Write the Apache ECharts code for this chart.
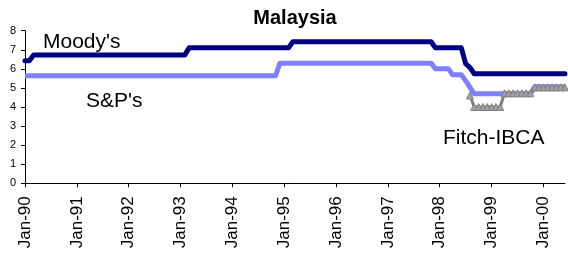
<!DOCTYPE html>
<html>
<head>
<meta charset="utf-8">
<script src="https://cdn.jsdelivr.net/npm/echarts@6/dist/echarts.min.js"></script>
<style>
  html, body { margin: 0; padding: 0; background: #fff; }
  #chart { width: 568px; height: 258px; }
</style>
</head>
<body>
<div id="chart"></div>
<script>
// monthly categories Jan-90 .. Jun-00
var monthNames = ['Jan','Feb','Mar','Apr','May','Jun','Jul','Aug','Sep','Oct','Nov','Dec'];
var years = ['90','91','92','93','94','95','96','97','98','99','00'];
var lastMonthOf2000 = 6;
var months = [];
years.forEach(function (y, i) {
  var n = i === years.length - 1 ? lastMonthOf2000 : 12;
  for (var m = 0; m < n; m++) months.push(monthNames[m] + '-' + y);
});

// rating scores, one per month
var moodys = [
  6.42, 6.42, 6.73, 6.73, 6.73, 6.73, 6.73, 6.73, 6.73, 6.73, 6.73, 6.73, // 1990
  6.73, 6.73, 6.73, 6.73, 6.73, 6.73, 6.73, 6.73, 6.73, 6.73, 6.73, 6.73, // 1991
  6.73, 6.73, 6.73, 6.73, 6.73, 6.73, 6.73, 6.73, 6.73, 6.73, 6.73, 6.73, // 1992
  6.73, 6.73, 7.1, 7.1, 7.1, 7.1, 7.1, 7.1, 7.1, 7.1, 7.1, 7.1,           // 1993
  7.1, 7.1, 7.1, 7.1, 7.1, 7.1, 7.1, 7.1, 7.1, 7.1, 7.1, 7.1,             // 1994
  7.1, 7.1, 7.42, 7.42, 7.42, 7.42, 7.42, 7.42, 7.42, 7.42, 7.42, 7.42,   // 1995
  7.42, 7.42, 7.42, 7.42, 7.42, 7.42, 7.42, 7.42, 7.42, 7.42, 7.42, 7.42, // 1996
  7.42, 7.42, 7.42, 7.42, 7.42, 7.42, 7.42, 7.42, 7.42, 7.42, 7.42, 7.1,  // 1997
  7.1, 7.1, 7.1, 7.1, 7.1, 7.1, 6.27, 6.07, 5.74, 5.74, 5.74, 5.74,       // 1998
  5.74, 5.74, 5.74, 5.74, 5.74, 5.74, 5.74, 5.74, 5.74, 5.74, 5.74, 5.74, // 1999
  5.74, 5.74, 5.74, 5.74, 5.74, 5.74                                      // 2000
];
var sp = [
  5.64, 5.64, 5.64, 5.64, 5.64, 5.64, 5.64, 5.64, 5.64, 5.64, 5.64, 5.64, // 1990
  5.64, 5.64, 5.64, 5.64, 5.64, 5.64, 5.64, 5.64, 5.64, 5.64, 5.64, 5.64, // 1991
  5.64, 5.64, 5.64, 5.64, 5.64, 5.64, 5.64, 5.64, 5.64, 5.64, 5.64, 5.64, // 1992
  5.64, 5.64, 5.64, 5.64, 5.64, 5.64, 5.64, 5.64, 5.64, 5.64, 5.64, 5.64, // 1993
  5.64, 5.64, 5.64, 5.64, 5.64, 5.64, 5.64, 5.64, 5.64, 5.64, 5.64, 6.3,  // 1994
  6.3, 6.3, 6.3, 6.3, 6.3, 6.3, 6.3, 6.3, 6.3, 6.3, 6.3, 6.3,             // 1995
  6.3, 6.3, 6.3, 6.3, 6.3, 6.3, 6.3, 6.3, 6.3, 6.3, 6.3, 6.3,             // 1996
  6.3, 6.3, 6.3, 6.3, 6.3, 6.3, 6.3, 6.3, 6.3, 6.3, 6.3, 6.0,             // 1997
  6.0, 6.0, 6.0, 5.69, 5.69, 5.69, 5.38, 5.03, 4.69, 4.69, 4.69, 4.69,    // 1998
  4.69, 4.69, 4.69, 4.69, 4.69, 4.69, 4.69, 4.69, 4.69, 4.69, 5.06, 5.06, // 1999
  5.06, 5.06, 5.06, 5.06, 5.06, 5.06                                      // 2000
];
// Fitch-IBCA starts Aug-98
var fitchStart = 'Aug-98';
var fitch = [
  4.6, 4.0, 4.0, 4.0, 4.0, 4.0, 4.0, 4.0,  // Aug-98 .. Mar-99
  4.72, 4.72, 4.72, 4.72, 4.72, 4.72, 4.72, // Apr-99 .. Oct-99
  5.03, 5.03, 5.03, 5.03, 5.03, 5.03, 5.03, 5.03 // Nov-99 .. Jun-00
];
var yTicks = [0, 1, 2, 3, 4, 5, 6, 7, 8];

var fitchData = months.map(function (m, i) {
  var k = i - months.indexOf(fitchStart);
  return k >= 0 ? fitch[k] : null;
});

var chart = echarts.init(document.getElementById('chart'), null, { renderer: 'canvas' });
var font = 'Liberation Sans, Arial, sans-serif';
var isJan = function (idx) { return idx % 12 === 0; };

chart.setOption({
  animation: false,
  title: {
    text: 'Malaysia',
    left: 295,
    top: 8,
    textAlign: 'center',
    padding: 0,
    textStyle: { fontFamily: font, fontSize: 20, fontWeight: 'bold', color: '#000' }
  },
  grid: { left: 25, right: 3, top: 30.7, bottom: 74.7, containLabel: false },
  xAxis: {
    type: 'category',
    data: months,
    boundaryGap: false,
    axisLine: { lineStyle: { color: '#000', width: 1 } },
    axisTick: { interval: isJan, length: 4, lineStyle: { color: '#000' } },
    axisLabel: {
      interval: isJan,
      rotate: 90,
      margin: 13,
      fontFamily: font,
      fontSize: 17,
      color: '#000'
    },
    splitLine: { show: false }
  },
  yAxis: {
    type: 'value',
    min: yTicks[0],
    max: yTicks[yTicks.length - 1],
    interval: 1,
    axisLine: { show: true, lineStyle: { color: '#000', width: 1 } },
    axisTick: { show: true, length: 4, lineStyle: { color: '#000' } },
    axisLabel: { margin: 9, fontFamily: font, fontSize: 11, color: '#000' },
    splitLine: { show: false }
  },
  series: [
    {
      name: "Moody's",
      type: 'line',
      data: moodys,
      showSymbol: false,
      lineStyle: { color: '#000080', width: 5, cap: 'round', join: 'round' },
      itemStyle: { color: '#000080' }
    },
    {
      name: "S&P's",
      type: 'line',
      data: sp,
      showSymbol: false,
      lineStyle: { color: '#8080ff', width: 5, join: 'round' },
      itemStyle: { color: '#8080ff' }
    },
    {
      name: 'Fitch-IBCA',
      type: 'line',
      data: fitchData,
      symbol: 'triangle',
      symbolSize: 7,
      showAllSymbol: true,
      lineStyle: { color: '#808080', width: 3, join: 'round' },
      itemStyle: { color: '#a0a0a0', borderColor: '#808080', borderWidth: 1 }
    }
  ],
  graphic: [
    { type: 'text', left: 43, top: 32, style: { text: "Moody's", font: '21px ' + font, fill: '#000' } },
    { type: 'text', left: 86, top: 91, style: { text: "S&P's", font: '21px ' + font, fill: '#000' } },
    { type: 'text', left: 443, top: 128, style: { text: 'Fitch-IBCA', font: '21px ' + font, fill: '#000' } }
  ]
});
</script>
</body>
</html>
